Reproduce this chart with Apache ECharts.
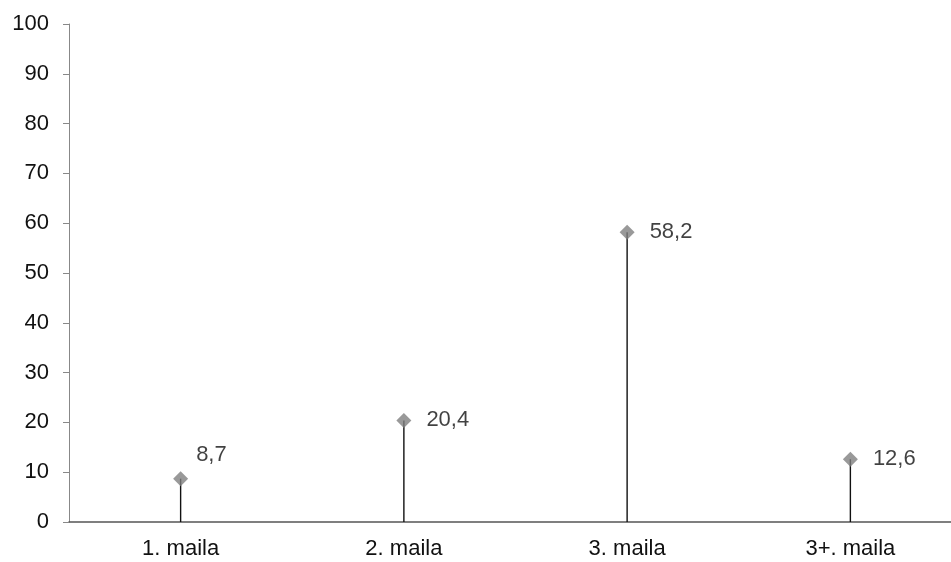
<!DOCTYPE html>
<html>
<head>
<meta charset="utf-8">
<script src="https://cdn.jsdelivr.net/npm/echarts@6/dist/echarts.min.js"></script>
<style>html,body{margin:0;padding:0;background:#fff}#c{width:951px;height:562px}</style>
</head>
<body>
<div id="c"></div>
<script>
var categories = ['1. maila', '2. maila', '3. maila', '3+. maila'];
var values = [8.7, 20.4, 58.2, 12.6];
var yTicks = [0, 10, 20, 30, 40, 50, 60, 70, 80, 90, 100];

var chart = echarts.init(document.getElementById('c'));
var font = 'Liberation Sans, Arial, sans-serif';
chart.setOption({
  animation: false,
  grid: { left: 69, width: 893, top: 24, bottom: 40, containLabel: false, outerBoundsMode: 'none' },
  xAxis: {
    type: 'category',
    data: categories,
    axisLine: { lineStyle: { color: '#555', width: 1.5 } },
    axisTick: { show: false },
    axisLabel: { color: '#111', fontSize: 22, fontFamily: font, margin: 16 }
  },
  yAxis: {
    type: 'value',
    min: yTicks[0],
    max: yTicks[yTicks.length - 1],
    interval: 10,
    splitLine: { show: false },
    axisLine: { show: true, lineStyle: { color: '#888' } },
    axisTick: { show: true, length: 6, lineStyle: { color: '#888' } },
    axisLabel: { color: '#111', fontSize: 22, fontFamily: font, margin: 20 }
  },
  series: [
    {
      type: 'bar',
      data: values,
      barWidth: 1.4,
      itemStyle: { color: '#111' },
      silent: true
    },
    {
      type: 'scatter',
      data: values.map(function (v, i) {
        return {
          value: v,
          label: i === 0 ? { position: 'right', offset: [3, -24] } : { position: 'right', offset: [10, 0] }
        };
      }),
      symbol: 'diamond',
      symbolSize: 15,
      itemStyle: { color: '#808080' },
      z: 5,
      label: {
        show: true,
        position: 'right',
        color: '#111',
        fontSize: 22,
        fontFamily: font,
        formatter: function (p) { return String(p.value).replace('.', ','); }
      }
    }
  ]
});
</script>
</body>
</html>
